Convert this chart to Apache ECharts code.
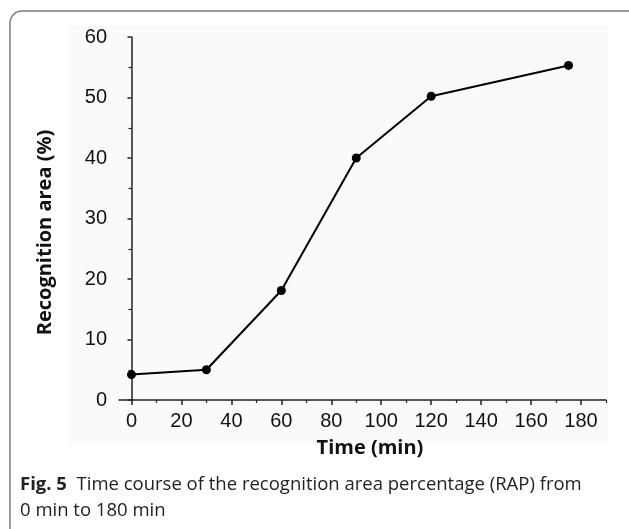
<!DOCTYPE html>
<html>
<head>
<meta charset="utf-8">
<script src="https://cdn.jsdelivr.net/npm/echarts@6/dist/echarts.min.js"></script>
<style>html,body{margin:0;padding:0;background:#fff;}#c{width:629px;height:529px;}</style>
</head>
<body>
<div id="c"></div>
<script>
const timeMin = [0, 30, 60, 90, 120, 175];
const recognitionArea = [4.2, 5.0, 18.1, 40.0, 50.2, 55.3];
const xMajorTicks = [0, 20, 40, 60, 80, 100, 120, 140, 160, 180];
const xMinorTicks = [10, 30, 50, 70, 90, 110, 130, 150, 170, 190];
const xTitle = 'Time (min)';
const yTitle = 'Recognition area (%)';
const captionBold = 'Fig. 5';
const captionLine1 = 'Time course of the recognition area percentage (RAP) from';
const captionLine2 = '0 min to 180 min';

const chart = echarts.init(document.getElementById('c'), null, {renderer: 'canvas'});
const axisFont = 'Liberation Sans, Arial, sans-serif';
const capFont = '"Open Sans", "Noto Sans", sans-serif';
chart.setOption({
  animation: false,
  grid: {left: 119, right: 23, top: 37, bottom: 129},
  graphic: [
    {type: 'rect', z: -10, shape: {x: 10, y: 11, width: 640, height: 560, r: 12},
     style: {fill: '#fff', stroke: '#7a7a7a', lineWidth: 1.5}},
    {type: 'rect', z: -9, shape: {x: 68, y: 25, width: 540, height: 418},
     style: {fill: '#fafafa'}},
    {type: 'text', left: 20, top: 472,
     style: {text: '{b|' + captionBold + '}  ' + captionLine1 + '\n' + captionLine2,
       font: '18.5px ' + capFont, fill: '#222', lineHeight: 26,
       rich: {b: {fontWeight: 'bold', fontSize: 18.5, fontFamily: capFont, fill: '#222', lineHeight: 26}}}}
  ],
  xAxis: [{
    type: 'value', min: -5, max: 190,
    name: xTitle, nameLocation: 'middle', nameGap: 38,
    nameTextStyle: {fontFamily: capFont, fontWeight: 'bold', fontSize: 20, color: '#111', padding: [0, 0, 0, 15]},
    axisLine: {show: true, onZero: false, lineStyle: {color: '#222', width: 1.5}},
    axisTick: {show: true, length: 5, customValues: xMajorTicks, lineStyle: {color: '#222', width: 1.5}},
    axisLabel: {customValues: xMajorTicks, fontFamily: axisFont, fontSize: 20, color: '#111', margin: 11},
    splitLine: {show: false}
  }, {
    type: 'value', min: -5, max: 190, position: 'bottom',
    axisLine: {show: false},
    axisTick: {show: true, length: 3, customValues: xMinorTicks, lineStyle: {color: '#222', width: 1.2}},
    axisLabel: {show: false},
    splitLine: {show: false}
  }],
  yAxis: {
    type: 'value', min: 0, max: 60, interval: 10,
    name: yTitle, nameLocation: 'middle', nameGap: 64,
    nameTextStyle: {fontFamily: capFont, fontWeight: 'bold', fontSize: 20, color: '#111', padding: [0, 28, 0, 0]},
    axisLine: {show: true, lineStyle: {color: '#222', width: 1.5}},
    axisTick: {show: true, length: 4, lineStyle: {color: '#222', width: 1.5}},
    minorTick: {show: true, splitNumber: 2, length: 3, lineStyle: {color: '#222', width: 1.2}},
    axisLabel: {fontFamily: axisFont, fontSize: 20, color: '#111', margin: 12},
    splitLine: {show: false}, minorSplitLine: {show: false}
  },
  series: [{
    type: 'line',
    data: timeMin.map((t, i) => [t, recognitionArea[i]]),
    symbol: 'circle', symbolSize: 9,
    lineStyle: {color: '#000', width: 2},
    itemStyle: {color: '#000'}
  }]
});
</script>
</body>
</html>
